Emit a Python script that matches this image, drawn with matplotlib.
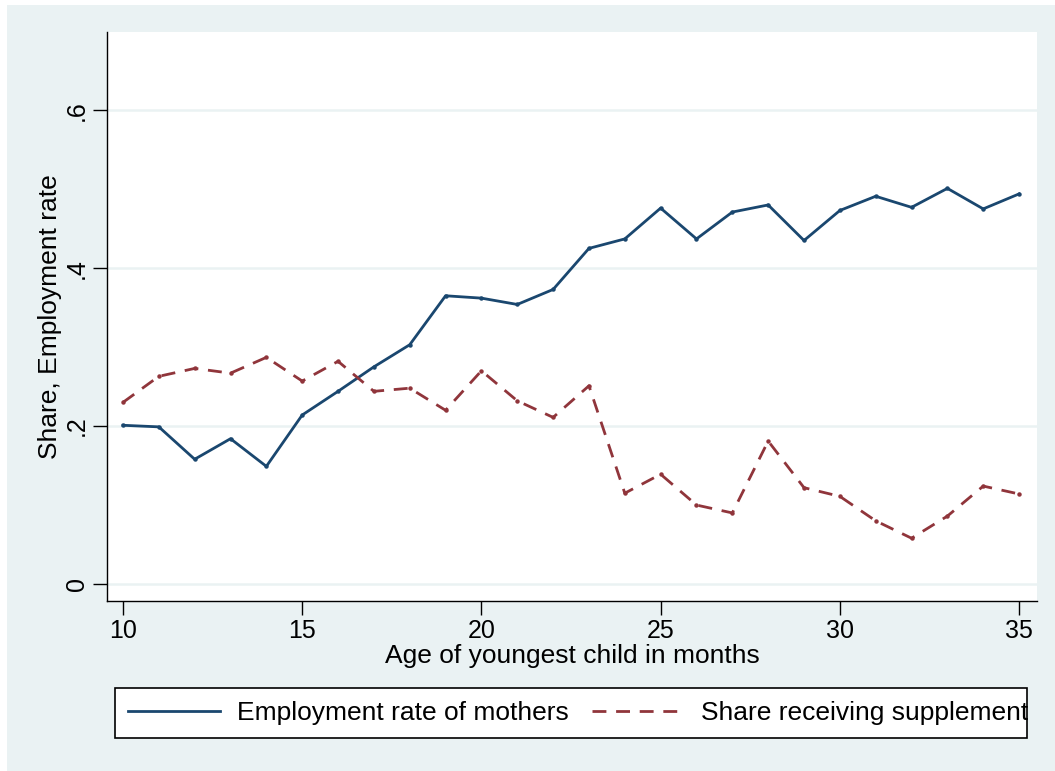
import matplotlib
matplotlib.use('Agg')
import matplotlib.pyplot as plt
from matplotlib.patches import Rectangle
from matplotlib.lines import Line2D

BG = '#EAF2F3'
BLUE = '#1A476F'
RED = '#90353B'
GRID = '#EAF2F3'

age = list(range(10, 36))
employment = [0.201, 0.199, 0.158, 0.184, 0.149, 0.214, 0.244, 0.275, 0.303,
              0.365, 0.362, 0.354, 0.373, 0.425, 0.437, 0.476, 0.437, 0.471,
              0.480, 0.435, 0.473, 0.491, 0.477, 0.501, 0.475, 0.494]
supplement = [0.230, 0.263, 0.273, 0.267, 0.287, 0.257, 0.282, 0.244, 0.248,
              0.220, 0.270, 0.232, 0.211, 0.251, 0.115, 0.139, 0.100, 0.090,
              0.181, 0.122, 0.111, 0.080, 0.058, 0.086, 0.124, 0.114]
xticks = [10, 15, 20, 25, 30, 35]
yticks = [0, 0.2, 0.4, 0.6]
ytick_labels = ['0', '.2', '.4', '.6']

plt.rcParams['font.family'] = ['Liberation Sans', 'DejaVu Sans']

W, H = 1055, 771
fig = plt.figure(figsize=(W / 100, H / 100), dpi=100)
fig.patch.set_facecolor('white')
fig.patches.append(Rectangle((7 / W, 0), 1 - 7 / W, 1 - 5 / H, transform=fig.transFigure,
                             facecolor=BG, edgecolor='none', zorder=-10))

ax = fig.add_axes([107 / W, 1 - 601 / H, (1037 - 107) / W, (601 - 32) / H])
ax.set_facecolor('white')
for s in ['top', 'right']:
    ax.spines[s].set_visible(False)
for s in ['left', 'bottom']:
    ax.spines[s].set_color('black')
    ax.spines[s].set_linewidth(1.0)

ax.set_xlim(9.554, 35.5)
ax.set_ylim(-0.0215, 0.699)
for y in yticks:
    ax.axhline(y, color=GRID, linewidth=1.8, zorder=1)

ax.plot(age, employment, color=BLUE, linewidth=2, marker='o', markersize=2.2,
        zorder=3, label='Employment rate of mothers')
ax.plot(age, supplement, color=RED, linewidth=2, linestyle=(0, (5, 3.5)),
        marker='o', markersize=2.2, zorder=3, label='Share receiving supplement')

ax.set_xticks(xticks)
ax.set_xticklabels([str(x) for x in xticks], fontsize=18)
ax.set_yticks(yticks)
ax.set_yticklabels(ytick_labels, fontsize=18, rotation=90, va='center')
ax.tick_params(direction='out', length=10, width=1, color='black', pad=3)
ax.set_xlabel('Age of youngest child in months', fontsize=19, labelpad=1)
ax.set_ylabel('Share, Employment rate', fontsize=19, labelpad=2)

# legend box drawn separately, text runs slightly past its right edge like the original
fig.patches.append(Rectangle((115 / W, 1 - 738 / H), (1027 - 115) / W, 50 / H,
                             transform=fig.transFigure, facecolor='white',
                             edgecolor='black', linewidth=1.2, zorder=1))
handles = [Line2D([0], [0], color=BLUE, linewidth=2),
           Line2D([0], [0], color=RED, linewidth=2, linestyle=(0, (5, 3.5)))]
leg = fig.legend(handles, ['Employment rate of mothers', 'Share receiving supplement'],
                 loc='center', bbox_to_anchor=(578 / W, 1 - 713 / H), ncol=2,
                 fontsize=19, frameon=False, handlelength=3.5,
                 handletextpad=0.65, columnspacing=0.87, borderpad=0.45,
                 borderaxespad=0)
leg.set_zorder(2)

fig.savefig('out.png', dpi=100, facecolor=fig.get_facecolor())
